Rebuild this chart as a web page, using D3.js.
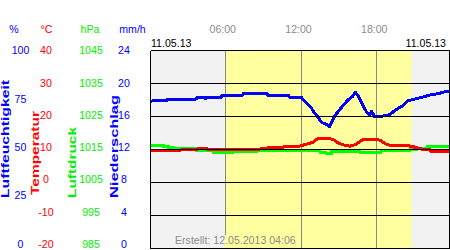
<!DOCTYPE html>
<html>
<head>
	<title>Wetter 11.05.13</title>
	<meta charset="UTF-8">
	<style>
		body { margin: 0; background: #fff; }
		svg { display: block; }
		text { font-family: "Liberation Sans", Arial, sans-serif; font-size: 10.6px; }
		.rot { font-size: 10px; font-weight: bold; }
		.grid { stroke: #000; stroke-width: 1; shape-rendering: crispEdges; }
		.hour { stroke: #888; stroke-width: 1; shape-rendering: crispEdges; }
		.series { fill: none; stroke-width: 3; stroke-linejoin: round; shape-rendering: crispEdges; }
	</style>
</head>
<body>
<script src="https://d3js.org/d3.v7.min.js"></script>
<script>
'use strict';

// day / labels
var dateLabel = "11.05.13";
var created = "Erstellt: 12.05.2013 04:06";
var hourTicks = ["06:00", "12:00", "18:00"];
var sunrise = "05:58";
var sunset = "20:46";

// axis tick labels, top to bottom
var humTicks = [100, 75, 50, 25, 0];
var tempTicks = [40, 30, 20, 10, 0, -10, -20];
var presTicks = [1045, 1035, 1025, 1015, 1005, 995, 985];
var rainTicks = [24, 20, 16, 12, 8, 4, 0];

// Luftfeuchtigkeit (%)
var humTimes = ["00:00","00:18","01:24","01:27","03:42","03:45","04:21","04:24","04:30","05:42","05:45",
	"07:24","07:27","09:18","09:21","11:00","11:03","12:00","12:15","12:30","12:48","13:00","13:18",
	"13:36","14:00","14:15","14:27","14:42","15:00","15:21","15:42","16:06","16:18","16:33","16:51",
	"17:12","17:27","17:36","17:48","18:24","19:00","19:30","20:00","20:30","21:18","22:12","23:00",
	"23:33","23:50"];
var humValues = [74.0,74.7,74.7,75.5,75.5,76.4,76.4,75.5,76.4,76.4,77.5,
	77.5,78.5,78.5,77.5,77.5,76.5,76.5,74.6,73.0,71.2,69.1,66.7,
	63.8,62.7,61.5,64.1,67.2,69.6,72.4,74.9,76.9,79.0,76.9,72.9,
	68.8,67.3,69.3,66.8,66.8,67.5,70.0,71.9,74.7,75.9,77.5,78.4,
	79.5,79.5];

// Temperatur (°C)
var tempTimes = ["00:00","00:36","02:24","02:30","03:42","03:48","04:36","04:42","08:30","08:36","09:18",
	"09:24","10:36","10:42","11:54","12:18","12:58","13:18","14:18","14:34","14:57","15:18","15:37",
	"15:53","16:17","16:36","16:54","18:06","18:24","18:42","19:00","19:50","20:54","21:00","21:26",
	"21:30","22:12","22:18","23:50"];
var tempValues = [9.9,9.6,9.6,9.85,9.85,10.2,10.2,9.85,9.85,10.1,10.3,
	10.55,10.6,11.05,11.05,11.45,12.2,13.25,13.25,13.0,12.0,11.45,11.2,
	11.0,11.45,12.2,13.0,13.0,12.5,11.7,11.35,11.2,11.0,10.55,10.4,
	10.15,10.0,9.5,9.45];

// Luftdruck (hPa)
var presTimes = ["00:00","01:06","01:30","01:54","03:44","05:03","06:36","08:30","13:30","14:00","14:24",
	"16:42","18:20","20:36","21:12","22:00","23:50"];
var presValues = [1016.2,1015.9,1015.65,1015.35,1014.65,1014.05,1014.35,1014.65,1014.15,1013.75,1014.35,
	1013.95,1014.55,1014.95,1015.45,1015.85,1015.85];

var width = 450;
var height = 250;
var plot = {left: 150.5, right: 449.5, top: 50.5, bottom: 248.5};

function hours(s){
	var p = s.split(":");
	return +p[0] + p[1] / 60;
}

var x = d3.scaleLinear().domain([0, 24]).range([149.5, 452.5]);
var yHum = d3.scaleLinear().domain([0, 100]).range([plot.bottom, plot.top]);
var yTemp = d3.scaleLinear().domain([-20, 40]).range([plot.bottom, plot.top]);
var yPres = d3.scaleLinear().domain([985, 1045]).range([plot.bottom, plot.top]);
// tick labels sit on a slightly shorter range so the bottom ones stay inside
var labelPos = d3.scaleLinear().domain([0, 1]).range([244, plot.top]);

var svg = d3.select("body").append("svg")
	.attr("width", width)
	.attr("height", height);

svg.append("clipPath").attr("id", "clip")
	.append("rect")
	.attr("x", plot.left).attr("y", plot.top)
	.attr("width", plot.right - plot.left).attr("height", plot.bottom - plot.top);

// backgrounds
svg.append("rect")
	.attr("x", plot.left).attr("y", plot.top)
	.attr("width", plot.right - plot.left).attr("height", plot.bottom - plot.top)
	.attr("fill", "#f2f2f2");

svg.append("rect")
	.attr("x", x(hours(sunrise))).attr("y", plot.top)
	.attr("width", x(hours(sunset)) - x(hours(sunrise))).attr("height", plot.bottom - plot.top)
	.attr("fill", "#ffffa0");

// footer text first, so the hour lines can stop above it
var foot = svg.append("text")
	.attr("x", 175)
	.attr("y", 244)
	.attr("fill", "#8c8c8c")
	.text(created);
var fb = foot.node().getBBox();

svg.selectAll(".hour")
	.data(hourTicks)
	.enter().append("line")
	.attr("class", "hour")
	.attr("x1", function(d){ return Math.floor(x(hours(d))) + 0.5; })
	.attr("x2", function(d){ return Math.floor(x(hours(d))) + 0.5; })
	.attr("y1", plot.top)
	.attr("y2", function(d){
		var px = x(hours(d));
		return (px > fb.x && px < fb.x + fb.width) ? fb.y + 1 : plot.bottom;
	});

svg.selectAll(".hlabel")
	.data(hourTicks)
	.enter().append("text")
	.attr("x", function(d){ return x(hours(d)) - 2.5; })
	.attr("y", 33)
	.attr("text-anchor", "middle")
	.attr("fill", "#8c8c8c")
	.text(function(d){ return d; });

var data = svg.append("g").attr("clip-path", "url(#clip)");

function series(times, values, yScale, color, curve){
	var pts = times.map(function(t, i){ return [hours(t), values[i]]; });
	data.append("path")
		.datum(pts)
		.attr("class", "series")
		.attr("stroke", color)
		.attr("d", d3.line()
			.curve(curve || d3.curveLinear)
			.x(function(d){ return x(d[0]); })
			.y(function(d){ return yScale(d[1]); }));
}

series(presTimes, presValues, yPres, "#00ff00", d3.curveStepAfter);
series(tempTimes, tempValues, yTemp, "#ff0000");

// horizontal grid + border
var gridY = d3.range(7).map(function(i){ return plot.top + i * (plot.bottom - plot.top) / 6; });
svg.selectAll(".grid")
	.data(gridY)
	.enter().append("line")
	.attr("class", "grid")
	.attr("x1", plot.left).attr("x2", plot.right)
	.attr("y1", function(d){ return d; })
	.attr("y2", function(d){ return d; });

svg.append("line").attr("class", "grid")
	.attr("x1", plot.left).attr("x2", plot.left)
	.attr("y1", plot.top).attr("y2", plot.bottom);
svg.append("line").attr("class", "grid")
	.attr("x1", plot.right).attr("x2", plot.right)
	.attr("y1", plot.top).attr("y2", plot.bottom);

series(humTimes, humValues, yHum, "#0000ff");

// date labels
svg.append("text").attr("x", 151).attr("y", 46.5).attr("fill", "#000").text(dateLabel);
svg.append("text").attr("x", 446).attr("y", 46.5).attr("text-anchor", "end").attr("fill", "#000").text(dateLabel);

// axis headers
var headers = [
	{t: "%", x: 14, c: "#0000ff"},
	{t: "°C", x: 46.5, c: "#ff0000"},
	{t: "hPa", x: 90, c: "#00ee00"},
	{t: "mm/h", x: 132.5, c: "#0000ff"}
];
svg.selectAll(".head")
	.data(headers)
	.enter().append("text")
	.attr("x", function(d){ return d.x; })
	.attr("y", 33)
	.attr("text-anchor", "middle")
	.attr("fill", function(d){ return d.c; })
	.text(function(d){ return d.t; });

function tickColumn(ticks, cx, color){
	svg.append("g").selectAll("text")
		.data(ticks)
		.enter().append("text")
		.attr("x", cx)
		.attr("y", function(d, i){ return labelPos(1 - i / (ticks.length - 1)); })
		.attr("dy", "0.36em")
		.attr("text-anchor", "middle")
		.attr("fill", color)
		.text(function(d){ return d; });
}

tickColumn(humTicks, 20.5, "#0000ff");
tickColumn(tempTicks, 46, "#ff0000");
tickColumn(presTicks, 91, "#00ee00");
tickColumn(rainTicks, 124, "#0000ff");

// rotated axis titles
var titles = [
	{t: "Luftfeuchtigkeit", x: 9, y: 198, len: 118, c: "#0000ff"},
	{t: "Temperatur", x: 39, y: 195, len: 84, c: "#ff0000"},
	{t: "Luftdruck", x: 75.5, y: 198, len: 71, c: "#00ee00"},
	{t: "Niederschlag", x: 117.5, y: 198, len: 103, c: "#0000ff"}
];
svg.selectAll(".rot")
	.data(titles)
	.enter().append("text")
	.attr("class", "rot")
	.attr("transform", function(d){ return "translate(" + d.x + "," + d.y + ") rotate(-90)"; })
	.attr("textLength", function(d){ return d.len; })
	.attr("lengthAdjust", "spacingAndGlyphs")
	.attr("fill", function(d){ return d.c; })
	.text(function(d){ return d.t; });

</script>
</body>
</html>
